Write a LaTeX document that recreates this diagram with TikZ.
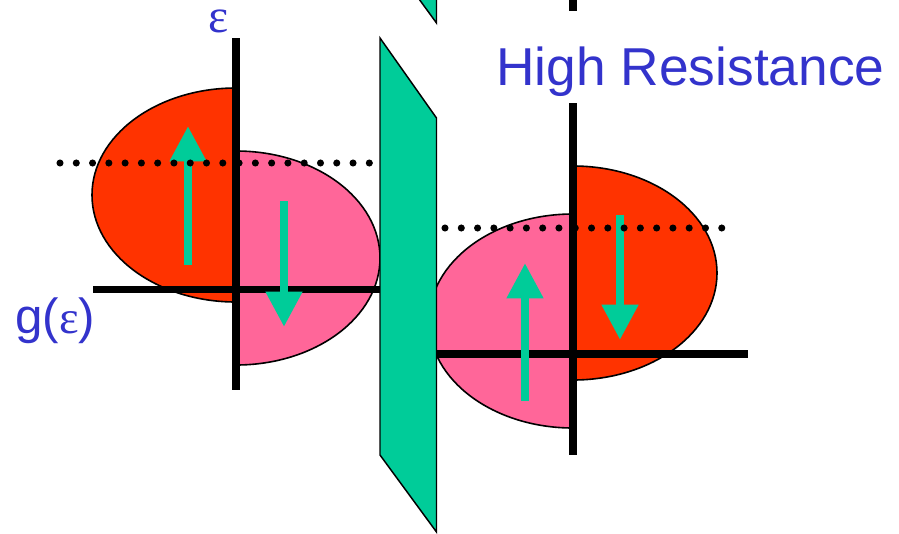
\documentclass[tikz,border=0pt]{standalone}
\usepackage{fontspec}
\setmainfont{Liberation Sans}
\newfontfamily\grego{Liberation Serif}
\usetikzlibrary{arrows.meta}
\definecolor{vermelho}{RGB}{255,51,0}
\definecolor{rosa}{RGB}{255,102,153}
\definecolor{verdeagua}{RGB}{0,204,153}
\definecolor{azul}{RGB}{51,51,204}
\newcommand{\coordenadas}{%
  % setas do lado esquerdo
  \coordinate (S1a) at (188,265);
  \coordinate (S1b) at (188,126);
  \coordinate (S2a) at (284,201);
  \coordinate (S2b) at (284,327);
  % setas do lado direito
  \coordinate (S3a) at (525,401);
  \coordinate (S3b) at (525,263);
  \coordinate (S4a) at (620,215);
  \coordinate (S4b) at (620,340);
}
\tikzset{
  eixo/.style={black, line width=5.3pt},
  lobo/.style={draw=black, line width=1.2pt},
  seta/.style={-{Triangle[length=26.5pt, width=26pt]}, verdeagua, line width=6.4pt},
  pontilhado/.style={black, line width=5.3pt, line cap=round, dash pattern=on 0pt off 12.21pt},
  barreira/.style={fill=verdeagua, draw=black, line width=1.1pt},
  rotulo/.style={azul, inner sep=0pt},
}

\begin{document}
\begin{tikzpicture}[x=0.75pt, y=-0.75pt]
  \useasboundingbox (0,0) rectangle (899,533);
  \clip (0,0) rectangle (899,533);
  \coordenadas

  % ---------------- lado esquerdo ----------------
  \filldraw[lobo, fill=vermelho] (236,88) arc[start angle=270, end angle=90, x radius=144, y radius=107] -- cycle;
  \filldraw[lobo, fill=rosa] (236,151) arc[start angle=270, end angle=450, x radius=144, y radius=107] -- cycle;
  \draw[eixo] (236,38) -- (236,390);
  \draw[eixo] (93,289.5) -- (380,289.5);
  \draw[seta] (S1a) -- (S1b);
  \draw[seta] (S2a) -- (S2b);
  \draw[pontilhado] (60,163) -- (369.4,163);

  % ---------------- lado direito ----------------
  \filldraw[lobo, fill=rosa] (573,214) arc[start angle=270, end angle=90, x radius=144, y radius=107] -- cycle;
  \filldraw[lobo, fill=vermelho] (573,166) arc[start angle=270, end angle=450, x radius=144, y radius=107] -- cycle;
  \draw[eixo] (573,103) -- (573,455);
  \draw[eixo] (436,354) -- (748,354);
  \draw[seta] (S3a) -- (S3b);
  \draw[seta] (S4a) -- (S4b);
  \draw[pontilhado] (445,228) -- (722,228);

  % ---------------- barreira e restos do painel de cima ----------------
  \draw[eixo] (573,-60) -- (573,11);
  \draw[barreira] (380,-500) -- (436.5,-420) -- (436.5,23) -- (380,-54.5) -- cycle;
  \draw[barreira] (380,38) -- (436.5,118) -- (436.5,532) -- (380,455) -- cycle;

  % ---------------- textos ----------------
  \node[rotulo, anchor=base, text height=18pt, text depth=0pt, font={\grego\fontsize{36pt}{38pt}\selectfont}] (eps) at (219,32) {ε};
  \node[rotulo, anchor=base west, font=\fontsize{37pt}{40pt}\selectfont] (geps) at (15,333) {g({\grego\fontsize{35pt}{37pt}\selectfont ε})};
  \node[rotulo, anchor=base west, font=\fontsize{40pt}{42pt}\selectfont] (hr) at (496,85) {High Resistance};
\end{tikzpicture}
\end{document}
